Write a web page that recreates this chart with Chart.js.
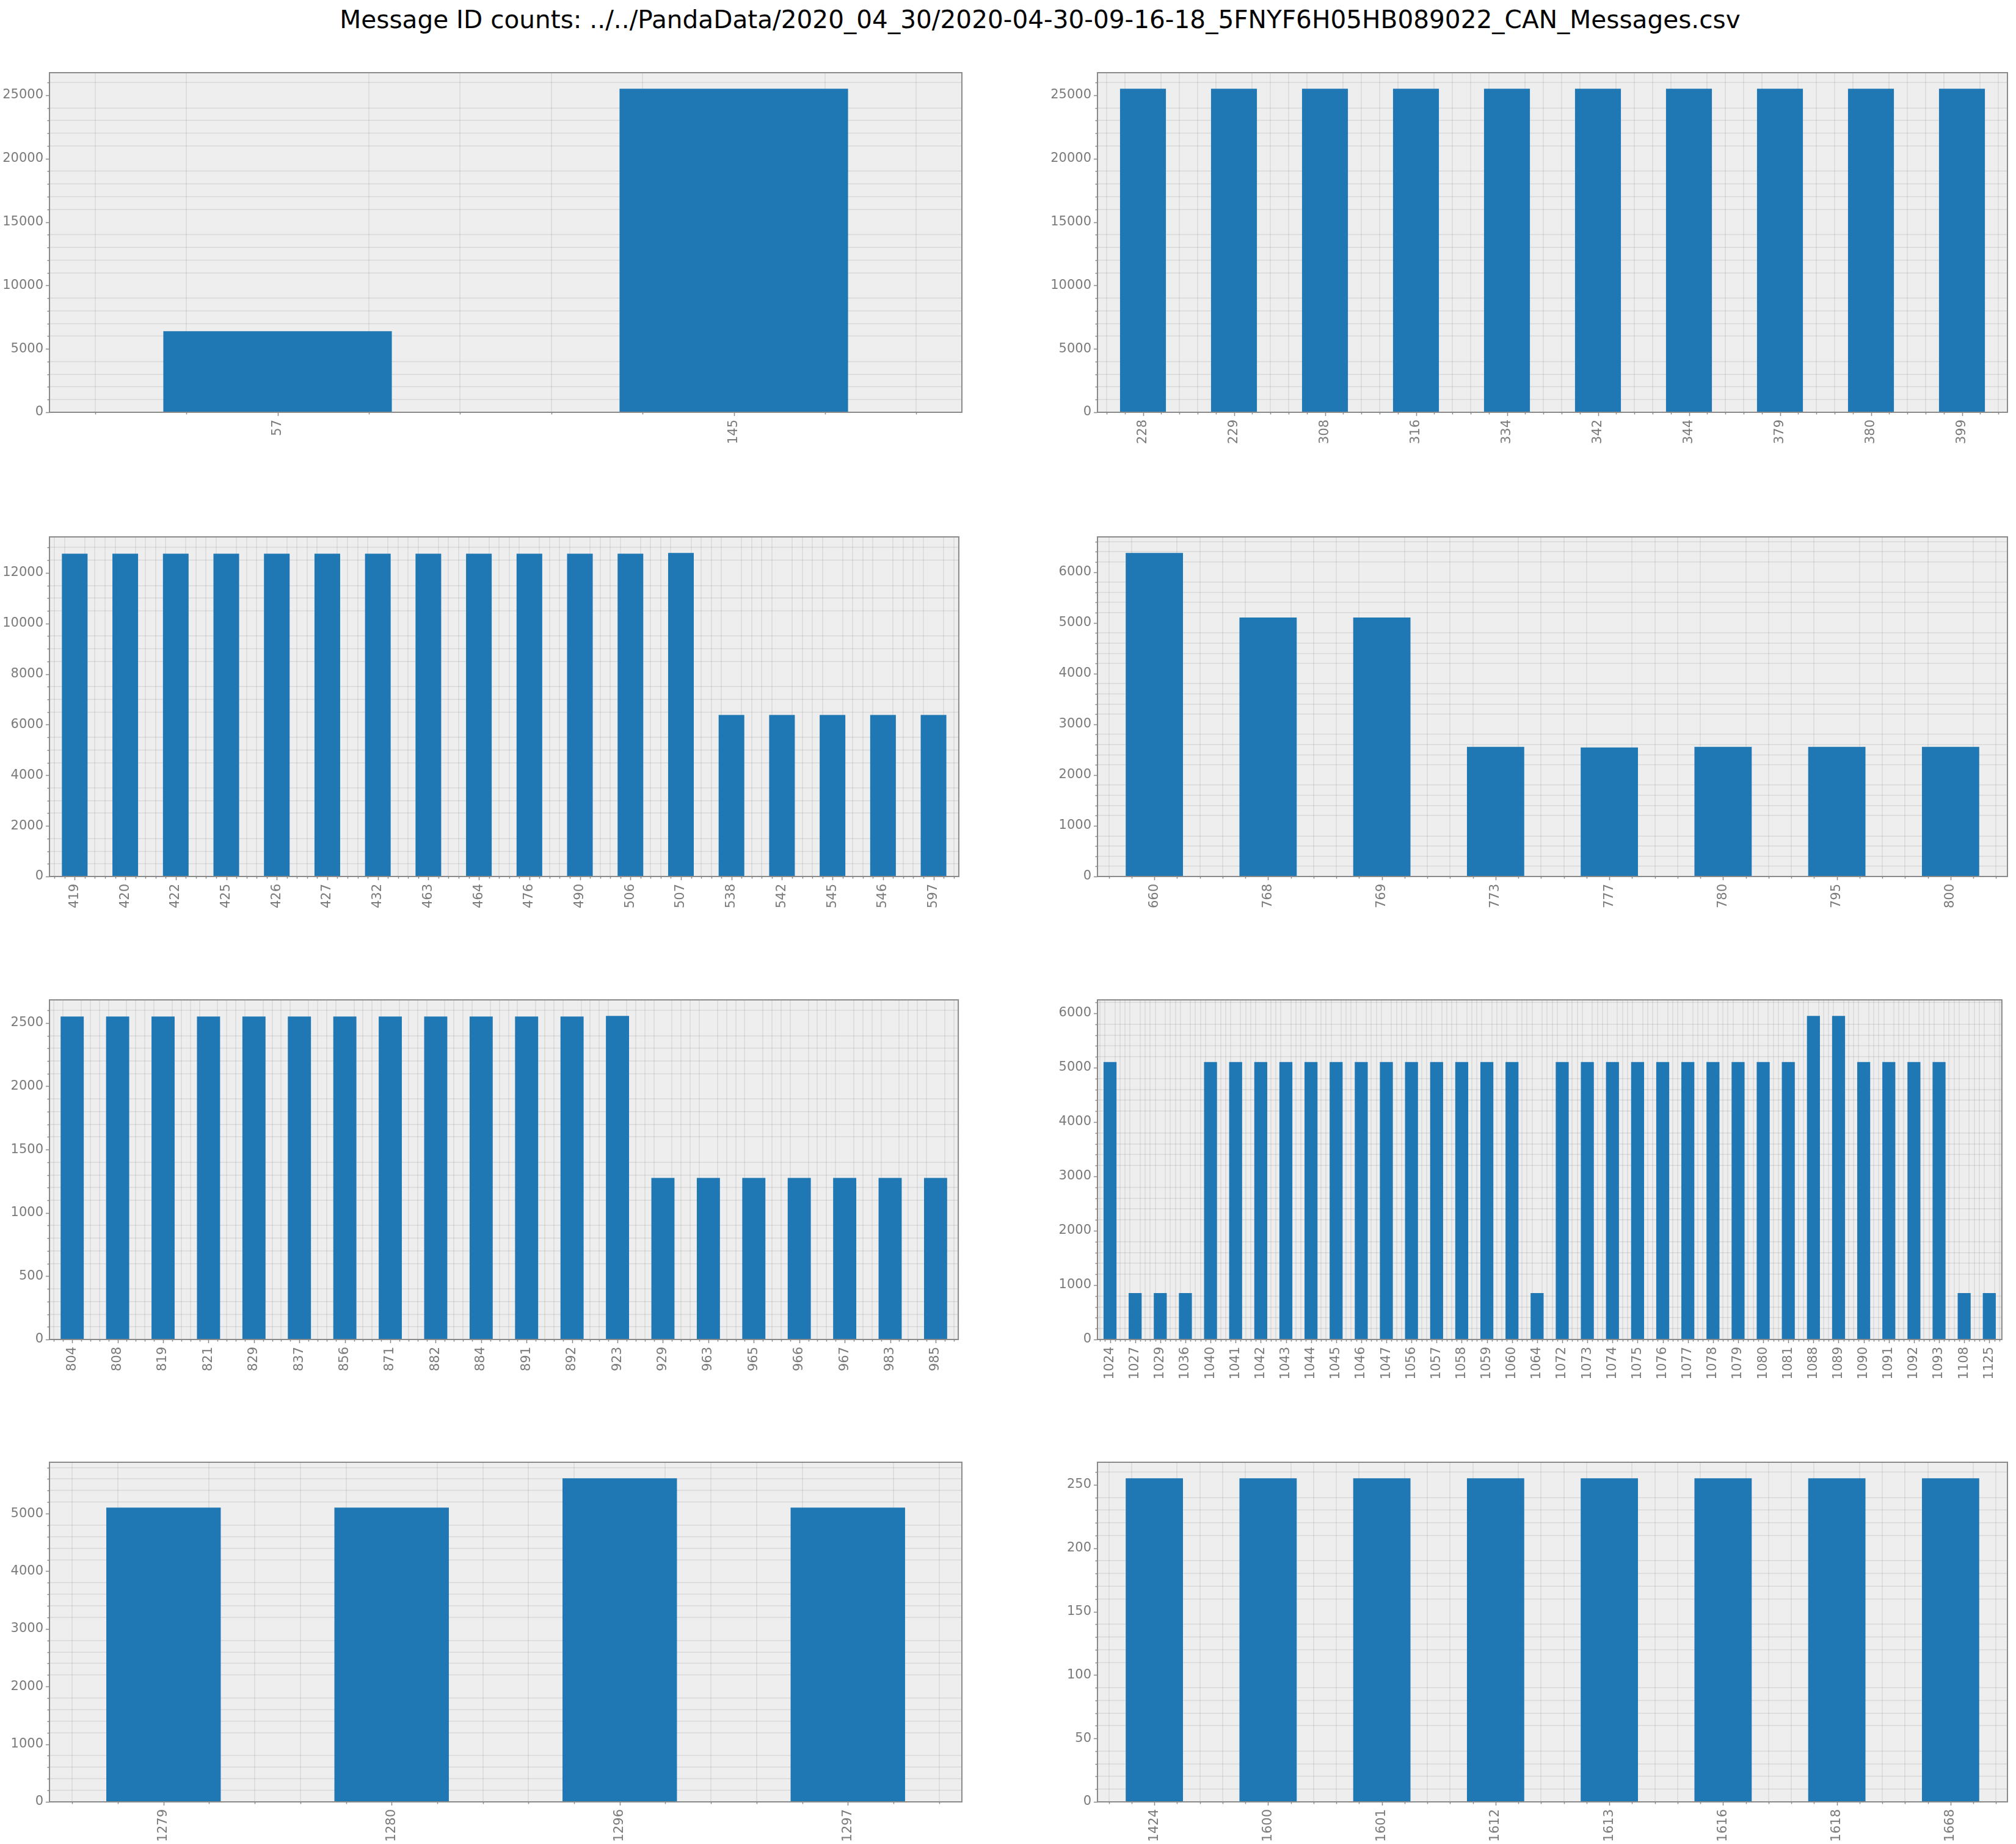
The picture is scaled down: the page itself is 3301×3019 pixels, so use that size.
<!DOCTYPE html>
<html>
<head>
<meta charset="utf-8">
<script src="https://cdn.jsdelivr.net/npm/chart.js@4.4.1/dist/chart.umd.min.js"></script>
<style>
  html, body { margin: 0; padding: 0; background: #ffffff; }
  body { width: 3301px; height: 3019px; position: relative; overflow: hidden; }
  #title {
    position: absolute; left: 0; width: 3406px; top: 8px; text-align: center;
    font-family: 'DejaVu Sans', sans-serif; font-size: 40.6px; color: #000; white-space: nowrap;
  }
  canvas { position: absolute; }
</style>
</head>
<body>
<div id="title"></div>
<script>
// メッセージID別の件数（CANログ）
const titleText = 'Message ID counts: ../../PandaData/2020_04_30/2020-04-30-09-16-18_5FNYF6H05HB089022_CAN_Messages.csv';

const ids1 = ['57', '145'];
const counts1 = [6375, 25500];

const ids2 = ['228', '229', '308', '316', '334', '342', '344', '379', '380', '399'];
const counts2 = [25500, 25500, 25500, 25500, 25500, 25500, 25500, 25500, 25500, 25500];

const ids3 = ['419', '420', '422', '425', '426', '427', '432', '463', '464', '476', '490', '506', '507',
  '538', '542', '545', '546', '597'];
const counts3 = [12750, 12750, 12750, 12750, 12750, 12750, 12750, 12750, 12750, 12750, 12750, 12750, 12780,
  6375, 6375, 6375, 6375, 6375];

const ids4 = ['660', '768', '769', '773', '777', '780', '795', '800'];
const counts4 = [6375, 5100, 5100, 2550, 2540, 2550, 2550, 2550];

const ids5 = ['804', '808', '819', '821', '829', '837', '856', '871', '882', '884', '891', '892', '923',
  '929', '963', '965', '966', '967', '983', '985'];
const counts5 = [2550, 2550, 2550, 2550, 2550, 2550, 2550, 2550, 2550, 2550, 2550, 2550, 2555,
  1275, 1275, 1275, 1275, 1275, 1275, 1275];

const ids6 = ['1024', '1027', '1029', '1036', '1040', '1041', '1042', '1043', '1044', '1045', '1046', '1047',
  '1056', '1057', '1058', '1059', '1060', '1064', '1072', '1073', '1074', '1075', '1076', '1077', '1078',
  '1079', '1080', '1081', '1088', '1089', '1090', '1091', '1092', '1093', '1108', '1125'];
const counts6 = [5100, 850, 850, 850, 5100, 5100, 5100, 5100, 5100, 5100, 5100, 5100,
  5100, 5100, 5100, 5100, 5100, 850, 5100, 5100, 5100, 5100, 5100, 5100, 5100,
  5100, 5100, 5100, 5950, 5950, 5100, 5100, 5100, 5100, 850, 850];

const ids7 = ['1279', '1280', '1296', '1297'];
const counts7 = [5100, 5100, 5610, 5100];

const ids8 = ['1424', '1600', '1601', '1612', '1613', '1616', '1618', '1668'];
const counts8 = [255, 255, 255, 255, 255, 255, 255, 255];

// y軸の目盛り間隔（主／副）
const majorSteps = [5000, 5000, 2000, 1000, 500, 1000, 1000, 50];
const minorSteps = [1000, 1000, 500, 200, 100, 200, 200, 10];

const panelIds = [ids1, ids2, ids3, ids4, ids5, ids6, ids7, ids8];
const panelCounts = [counts1, counts2, counts3, counts4, counts5, counts6, counts7, counts8];

// レイアウト（プロット領域の位置）
const COLS = [{ x: 81, w: 1494 }, { x: 1797, w: 1490 }];
const ROWS = [119, 879, 1637, 2394];
const PLOT_H = 556;
const Y_AXIS_W = 90;
const X_AXIS_H = 100;
const PAD = 24;

const COLORS = {
  bar: '#1f77b4',
  face: '#eeeeee',
  spine: '#8a8a8a',
  tick: '#7a7a7a',
  grid: 'rgba(0, 0, 0, 0.065)',
};

const TICK_FONT = { family: "'DejaVu Sans', sans-serif", size: 21 };

Chart.defaults.font.family = TICK_FONT.family;
Chart.defaults.color = COLORS.tick;

document.getElementById('title').textContent = titleText;

// 背景・枠・目盛り線
const panelDeco = {
  id: 'panelDeco',
  beforeDraw(chart) {
    const { ctx, chartArea: a } = chart;
    ctx.save();
    ctx.fillStyle = COLORS.face;
    ctx.fillRect(a.left, a.top, a.right - a.left, a.bottom - a.top);
    ctx.restore();
  },
  afterDraw(chart) {
    const { ctx, chartArea: a, scales } = chart;
    ctx.save();
    ctx.strokeStyle = COLORS.spine;
    ctx.lineWidth = 1.5;
    ctx.beginPath();
    scales.x.ticks.forEach(t => {
      const px = Math.round(scales.x.getPixelForValue(t.value)) + 0.5;
      ctx.moveTo(px, a.bottom);
      ctx.lineTo(px, a.bottom + (t.isMajor ? 6 : 3.5));
    });
    scales.y.ticks.forEach(t => {
      const py = Math.round(scales.y.getPixelForValue(t.value)) + 0.5;
      ctx.moveTo(a.left, py);
      ctx.lineTo(a.left - (t.isMajor ? 6 : 3.5), py);
    });
    ctx.stroke();
    ctx.lineWidth = 2;
    ctx.strokeRect(a.left, a.top, a.right - a.left, a.bottom - a.top);
    ctx.restore();
  },
};

function renderPanel(idx) {
  const labels = panelIds[idx];
  const values = panelCounts[idx];
  const major = majorSteps[idx];
  const minor = minorSteps[idx];
  const col = COLS[idx % 2];
  const target = { x: col.x, y: ROWS[Math.floor(idx / 2)], w: col.w, h: PLOT_H };

  const canvas = document.createElement('canvas');
  canvas.width = target.w + Y_AXIS_W + PAD;
  canvas.height = target.h + X_AXIS_H + PAD;
  canvas.style.width = canvas.width + 'px';
  canvas.style.height = canvas.height + 'px';
  canvas.style.left = (target.x - Y_AXIS_W) + 'px';
  canvas.style.top = (target.y - PAD) + 'px';
  document.body.appendChild(canvas);

  const yMax = Math.max(...values) * 1.05;
  const ratio = Math.round(major / minor);

  const chart = new Chart(canvas, {
    type: 'bar',
    data: {
      datasets: [{
        data: values.map((v, i) => ({ x: i, y: v })),
        backgroundColor: COLORS.bar,
        borderWidth: 0,
        barThickness: 'flex',
        categoryPercentage: 1,
        barPercentage: 0.5,
      }],
    },
    options: {
      responsive: false,
      animation: false,
      devicePixelRatio: 1,
      layout: { padding: { left: 0, right: PAD, top: PAD, bottom: 0 } },
      plugins: { legend: { display: false }, tooltip: { enabled: false } },
      scales: {
        x: {
          type: 'linear',
          offset: false,
          min: -0.5,
          max: labels.length - 0.5,
          z: 1,
          border: { display: false },
          grid: {
            offset: false,
            drawTicks: false,
            lineWidth: 2,
            color: c => (c.tick && !c.tick.isMajor ? COLORS.grid : 'rgba(0,0,0,0)'),
          },
          ticks: {
            autoSkip: false,
            minRotation: 90,
            maxRotation: 90,
            padding: 12,
            font: TICK_FONT,
            color: COLORS.tick,
            callback: (v, i, ticks) => (ticks[i].isMajor ? labels[Math.round(v)] : ''),
          },
          afterBuildTicks: axis => {
            const ticks = [];
            const kMax = Math.floor((labels.length - 0.5) * 5 + 1e-6);
            for (let k = -2; k <= kMax; k++) {
              ticks.push({ value: k / 5, isMajor: k % 5 === 0 });
            }
            axis.ticks = ticks;
          },
          afterFit: axis => { axis.height = X_AXIS_H; },
        },
        y: {
          type: 'linear',
          min: 0,
          max: yMax,
          z: 1,
          border: { display: false },
          grid: {
            drawTicks: false,
            lineWidth: 2,
            color: c => (c.tick && !c.tick.isMajor && c.tick.value > 0 ? COLORS.grid : 'rgba(0,0,0,0)'),
          },
          ticks: {
            autoSkip: false,
            padding: 10,
            font: TICK_FONT,
            color: COLORS.tick,
            callback: (v, i, ticks) => (ticks[i].isMajor ? String(Math.round(v)) : ''),
          },
          afterBuildTicks: axis => {
            const ticks = [];
            for (let k = 0; k * minor <= yMax; k++) {
              ticks.push({ value: k * minor, isMajor: k % ratio === 0 });
            }
            axis.ticks = ticks;
          },
          afterFit: axis => { axis.width = Y_AXIS_W; },
        },
      },
    },
    plugins: [panelDeco],
  });

  // プロット領域を目標位置に合わせる
  let a = chart.chartArea;
  const dw = target.w - (a.right - a.left);
  const dh = target.h - (a.bottom - a.top);
  if (Math.abs(dw) > 0.5 || Math.abs(dh) > 0.5) {
    chart.resize(canvas.width + dw, canvas.height + dh);
    a = chart.chartArea;
  }
  canvas.style.left = (target.x - a.left) + 'px';
  canvas.style.top = (target.y - a.top) + 'px';
  return chart;
}

for (let i = 0; i < 8; i++) renderPanel(i);
</script>
</body>
</html>
